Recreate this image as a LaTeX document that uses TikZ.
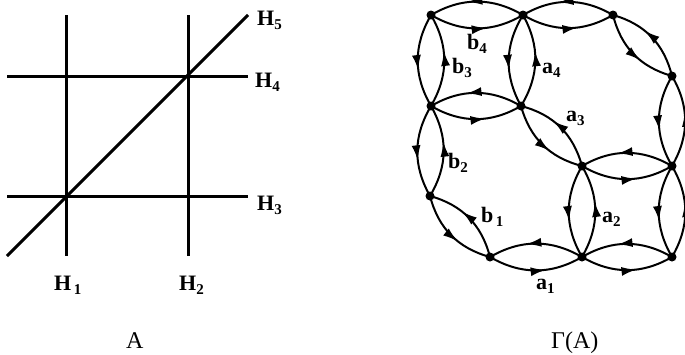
\documentclass[tikz,border=0pt]{standalone}
\usepackage{fontspec}
\setmainfont{Liberation Serif}
\usetikzlibrary{arrows.meta,decorations.markings}
\newcommand\sublab[2]{\textbf{#1}\raisebox{-4.5pt}{\fontsize{15}{15}\selectfont\textbf{#2}}}
\begin{document}
\begin{tikzpicture}[x=1pt,y=-1pt,
  hline/.style={line width=3pt},
  arc/.style={line width=2pt, postaction={decorate},
    decoration={markings, mark=at position 0.6 with {\arrow{Latex[length=15pt,width=9pt]}}}},
  vtx/.style={circle, fill, inner sep=0pt, minimum size=9pt},
  lab/.style={font=\fontsize{22}{22}\selectfont, inner sep=0pt, anchor=base west},
  captxt/.style={font=\fontsize{24}{24}\selectfont, inner sep=0pt, anchor=base west}]
\useasboundingbox (0,0) rectangle (685,354);

% ---------- left: arrangement A ----------
\coordinate (h1t) at (66,15);   \coordinate (h1b) at (66,256);
\coordinate (h2t) at (188,15);  \coordinate (h2b) at (188,256);
\coordinate (h3l) at (7,196);   \coordinate (h3r) at (248,196);
\coordinate (h4l) at (7,76);    \coordinate (h4r) at (248,76);
\coordinate (h5l) at (7,256);   \coordinate (h5r) at (248,15);
\draw[hline] (h1t) -- (h1b);
\draw[hline] (h2t) -- (h2b);
\draw[hline] (h3l) -- (h3r);
\draw[hline] (h4l) -- (h4r);
\draw[hline] (h5l) -- (h5r);
\node[lab] (H5) at (257,25) {\sublab{H}{5}};
\node[lab] (H4) at (255,87) {\sublab{H}{4}};
\node[lab] (H3) at (257,210) {\sublab{H}{3}};
\node[lab] (H1) at (54,290) {\sublab{H}{\,1}};
\node[lab] (H2) at (179,290) {\sublab{H}{2}};
\node[captxt] (capA) at (126,348) {A};

% ---------- right: graph Gamma(A) ----------
\node[vtx] (v1) at (431,15) {};
\node[vtx] (v2) at (523,15) {};
\node[vtx] (v3) at (613,15) {};
\node[vtx] (v4) at (672,76) {};
\node[vtx] (v5) at (431,106) {};
\node[vtx] (v6) at (521,106) {};
\node[vtx] (v7) at (582,166) {};
\node[vtx] (v8) at (672,166) {};
\node[vtx] (v9) at (430,196) {};
\node[vtx] (v10) at (490,257) {};
\node[vtx] (v11) at (582,257) {};
\node[vtx] (v12) at (672,257) {};

\foreach \u/\v in {v1/v2, v2/v3, v3/v4, v1/v5, v2/v6, v5/v6, v4/v8, v6/v7,
                   v5/v9, v7/v8, v7/v11, v8/v12, v9/v10, v10/v11, v11/v12}{
  \draw[arc] (\u.center) to[bend right=30] (\v.center);
  \draw[arc] (\v.center) to[bend right=30] (\u.center);
}

\node[lab] (b4) at (467,49) {\sublab{b}{4}};
\node[lab] (a4) at (542,73) {\sublab{a}{4}};
\node[lab] (b3) at (452,73) {\sublab{b}{3}};
\node[lab] (a3) at (566,121) {\sublab{a}{3}};
\node[lab] (b2) at (448,168) {\sublab{b}{2}};
\node[lab] (b1) at (481,222) {\sublab{b}{\,1}};
\node[lab] (a2) at (602,222) {\sublab{a}{2}};
\node[lab] (a1) at (536,289) {\sublab{a}{1}};
\node[captxt] (capG) at (551,348) {Γ(A)};
\end{tikzpicture}
\end{document}
